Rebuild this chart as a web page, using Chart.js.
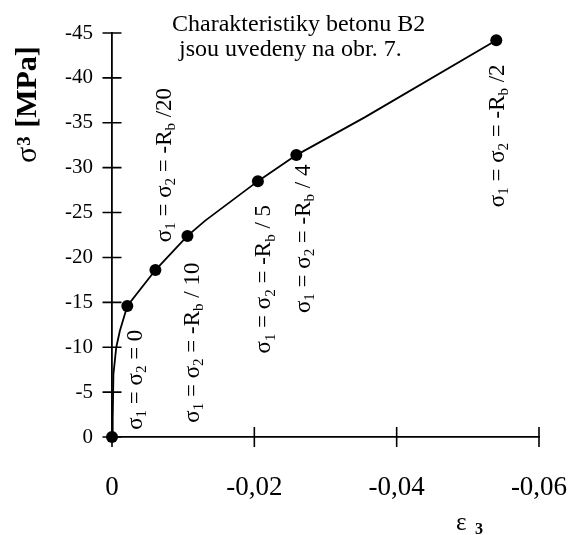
<!DOCTYPE html>
<html>
<head>
<meta charset="utf-8">
<script src="https://cdn.jsdelivr.net/npm/chart.js@4.4.0/dist/chart.umd.min.js"></script>
<style>
    body { margin: 0; background: #fff; }
    canvas { display: block; }
</style>
</head>
<body>
<canvas id="chart" width="570" height="535"></canvas>
<script>
// loading path eps3 / sigma3, with the bends between the measured points
const curveStrain = [0, -0.0001, -0.0002, -0.0006, -0.0011, -0.00215, -0.0061, -0.0106, -0.0131, -0.0205, -0.0259, -0.0355, -0.054];
const curveStress = [0, -2, -7, -10, -11.8, -14.6, -18.6, -22.4, -24.1, -28.5, -31.4, -35.6, -44.2];

// measured points
const pointStrain = [0, -0.00215, -0.0061, -0.0106, -0.0205, -0.0259, -0.054];
const pointStress = [0, -14.6, -18.6, -22.4, -28.5, -31.4, -44.2];

// axis ticks
const xTicks = [0, -0.02, -0.04, -0.06];
const yTicks = [0, -5, -10, -15, -20, -25, -30, -35, -40, -45];

// lateral pressure of each test ("_" = one subscript char)
const caseTexts = [
    "σ_1 = σ_2 = 0",
    "σ_1 = σ_2 = -R_b /20",
    "σ_1 = σ_2 = -R_b / 10",
    "σ_1 = σ_2 = -R_b / 5",
    "σ_1 = σ_2 = -R_b / 4",
    "σ_1 = σ_2 = -R_b /2",
];
// where each vertical text starts (axis units)
const caseSpots = [
    [-0.0031, -0.8],
    [-0.0072, -21.7],
    [-0.0111, -1.6],
    [-0.0212, -9.3],
    [-0.0268, -13.8],
    [-0.054, -25.6],
];

const noteLines = ["Charakteristiky betonu B2", "jsou uvedeny na obr. 7."];

const SERIF = "'Liberation Serif', 'Times New Roman', serif";

function richParts(str) {
    const parts = [];
    for (let i = 0; i < str.length; i++) {
        if (str[i] === "_") {
            parts.push({ t: str[i + 1], sub: true });
            i++;
        } else if (parts.length && !parts[parts.length - 1].sub) {
            parts[parts.length - 1].t += str[i];
        } else {
            parts.push({ t: str[i], sub: false });
        }
    }
    return parts;
}

// text running bottom-to-top, column centred on x
function drawVertical(ctx, str, x, y, size) {
    ctx.save();
    ctx.translate(x + size * 0.33, y);
    ctx.rotate(-Math.PI / 2);
    ctx.textBaseline = "alphabetic";
    ctx.textAlign = "left";
    let pos = 0;
    richParts(str).forEach((p) => {
        const s = p.sub ? size * 0.65 : size;
        ctx.font = s + "px " + SERIF;
        ctx.fillText(p.t, pos, p.sub ? size * 0.18 : 0);
        pos += ctx.measureText(p.t).width;
    });
    ctx.restore();
}

const crossTicks = {
    id: "crossTicks",
    beforeDatasetsDraw(chart) {
        const { ctx, scales: { x, y } } = chart;
        const x0 = x.getPixelForValue(0);
        const y0 = y.getPixelForValue(0);
        ctx.save();
        ctx.strokeStyle = "#000";
        ctx.lineWidth = 1.6;
        ctx.beginPath();
        xTicks.forEach((v) => {
            const px = x.getPixelForValue(v);
            ctx.moveTo(px, y0 - 10);
            ctx.lineTo(px, y0 + 10);
        });
        yTicks.forEach((v) => {
            const py = y.getPixelForValue(v);
            ctx.moveTo(x0 - 9.5, py);
            ctx.lineTo(x0 + 9.5, py);
        });
        ctx.stroke();
        ctx.restore();
    },
};

const texts = {
    id: "texts",
    afterDraw(chart) {
        const { ctx, scales: { x, y } } = chart;
        ctx.save();
        ctx.fillStyle = "#000";

        caseTexts.forEach((t, i) => {
            const [e, s] = caseSpots[i];
            drawVertical(ctx, t, x.getPixelForValue(e), y.getPixelForValue(s), 23);
        });

        // note in the upper right
        ctx.font = "24px " + SERIF;
        ctx.textBaseline = "alphabetic";
        ctx.textAlign = "left";
        ctx.fillText(noteLines[0], 172, 31);
        ctx.fillText(noteLines[1], 179, 56);

        // y title: sigma3 [MPa]
        ctx.save();
        ctx.translate(36, 163);
        ctx.rotate(-Math.PI / 2);
        ctx.font = "30px " + SERIF;
        ctx.fillText("σ", 0, 0);
        let w = ctx.measureText("σ").width;
        ctx.font = "bold 19px " + SERIF;
        ctx.fillText("3", w + 1, -6);
        w += 2 + ctx.measureText("3").width;
        ctx.font = "bold 30px " + SERIF;
        ctx.fillText(" [MPa]", w, 0);
        ctx.restore();

        // x title: eps 3
        ctx.font = "25px " + SERIF;
        ctx.fillText("ε", 456, 530);
        ctx.font = "bold 16px " + SERIF;
        ctx.fillText("3", 475, 534);
        ctx.restore();
    },
};

new Chart(document.getElementById("chart"), {
    type: "scatter",
    data: {
        datasets: [
            {
                data: curveStrain.map((v, i) => ({ x: v, y: curveStress[i] })),
                showLine: true,
                borderColor: "#000",
                borderWidth: 1.8,
                pointRadius: 0,
                tension: 0,
                clip: false,
            },
            {
                data: pointStrain.map((v, i) => ({ x: v, y: pointStress[i] })),
                showLine: false,
                pointRadius: 6,
                pointBackgroundColor: "#000",
                pointBorderColor: "#000",
                pointBorderWidth: 0,
                clip: false,
            },
        ],
    },
    options: {
        responsive: false,
        animation: false,
        layout: { padding: { top: 33, right: 31, left: 0, bottom: 0 } },
        plugins: {
            legend: { display: false },
            tooltip: { enabled: false },
        },
        scales: {
            x: {
                type: "linear",
                reverse: true,
                min: -0.06,
                max: 0,
                grid: { display: false, drawTicks: false },
                border: { display: true, color: "#000", width: 1.8 },
                afterBuildTicks: (scale) => {
                    scale.ticks = xTicks.map((v) => ({ value: v }));
                },
                afterFit: (scale) => {
                    scale.height = 98;
                    scale.paddingLeft = 0;
                    scale.paddingRight = 0;
                },
                ticks: {
                    padding: 35,
                    color: "#000",
                    font: { family: SERIF, size: 27 },
                    maxRotation: 0,
                    callback: (v) => (v === 0 ? "0" : v.toFixed(2).replace(".", ",")),
                },
            },
            y: {
                type: "linear",
                reverse: true,
                min: -45,
                max: 0,
                grid: { display: false, drawTicks: false },
                border: { display: true, color: "#000", width: 1.8 },
                afterBuildTicks: (scale) => {
                    scale.ticks = yTicks.map((v) => ({ value: v }));
                },
                afterFit: (scale) => {
                    scale.width = 112;
                    scale.paddingTop = 0;
                    scale.paddingBottom = 0;
                },
                ticks: {
                    padding: 19,
                    color: "#000",
                    font: { family: SERIF, size: 21 },
                    callback: (v) => String(v),
                },
            },
        },
    },
    plugins: [crossTicks, texts],
});
</script>
</body>
</html>
